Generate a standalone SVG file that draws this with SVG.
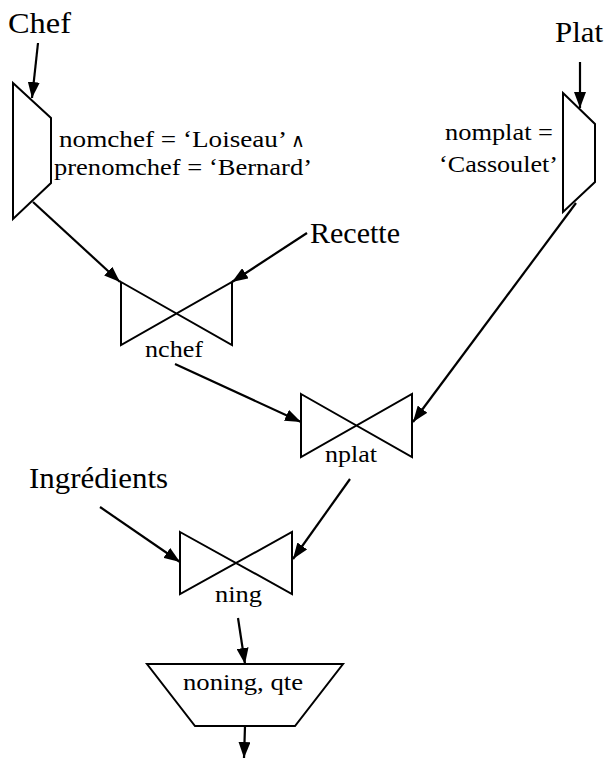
<svg xmlns="http://www.w3.org/2000/svg" width="607" height="758" viewBox="0 0 607 758">
<style>
.shape{fill:#fff;stroke:#000;stroke-width:2;stroke-linejoin:miter}
.conn{fill:none;stroke:#000;stroke-width:2.2}
.big{font-family:"Liberation Serif","Times New Roman",serif;font-size:30px;fill:#000}
.sm{font-family:"Liberation Serif","Times New Roman",serif;font-size:24px;fill:#000}
.op{font-family:"DejaVu Sans",sans-serif;font-size:19px;fill:#000}
</style>
<defs>
<marker id="arr" viewBox="0 0 16 12" refX="16" refY="6" markerWidth="16" markerHeight="12" markerUnits="userSpaceOnUse" orient="auto">
<path d="M0,0 L16,6 L0,12 z" fill="#000"/>
</marker>
</defs>
<rect width="607" height="758" fill="#fff"/>
<g id="chef"><text class="big" x="8" y="33" textLength="63" lengthAdjust="spacingAndGlyphs">Chef</text></g>
<g id="plat"><text class="big" x="555" y="42" textLength="48" lengthAdjust="spacingAndGlyphs">Plat</text></g>
<g id="recette"><text class="big" x="310" y="243" textLength="90" lengthAdjust="spacingAndGlyphs">Recette</text></g>
<g id="ingredients"><text class="big" x="29" y="488" textLength="139" lengthAdjust="spacingAndGlyphs">Ingrédients</text></g>
<g id="sel-chef">
<polygon class="shape" points="13,83 51,118 51,183 13,219"/>
<text class="sm" x="59" y="147" textLength="228" lengthAdjust="spacingAndGlyphs">nomchef = ‘Loiseau’</text>
<text class="op" x="291" y="147">∧</text>
<text class="sm" x="54" y="175" textLength="258" lengthAdjust="spacingAndGlyphs">prenomchef = ‘Bernard’</text>
</g>
<g id="sel-plat">
<polygon class="shape" points="563,93 595,124 595,182 563,212"/>
<text class="sm" x="445" y="140" textLength="108" lengthAdjust="spacingAndGlyphs">nomplat =</text>
<text class="sm" x="439" y="172" textLength="119" lengthAdjust="spacingAndGlyphs">‘Cassoulet’</text>
</g>
<g id="join-nchef">
<path class="shape" d="M121,282 L232,345 L232,282 L121,345 Z"/>
<text class="sm" x="145" y="357" textLength="58" lengthAdjust="spacingAndGlyphs">nchef</text>
</g>
<g id="join-nplat">
<path class="shape" d="M301,394 L412,457 L412,394 L301,457 Z"/>
<text class="sm" x="325" y="462" textLength="52" lengthAdjust="spacingAndGlyphs">nplat</text>
</g>
<g id="join-ning">
<path class="shape" d="M180,532 L292,594 L292,532 L180,594 Z"/>
<text class="sm" x="215" y="602" textLength="47" lengthAdjust="spacingAndGlyphs">ning</text>
</g>
<g id="proj">
<polygon class="shape" points="147,664 343,664 295,726 195,726"/>
<text class="sm" x="183" y="690" textLength="120" lengthAdjust="spacingAndGlyphs">noning, qte</text>
</g>
<g id="connectors">
<line class="conn" x1="38" y1="43" x2="32" y2="98" marker-end="url(#arr)"/>
<line class="conn" x1="580" y1="62" x2="580" y2="108" marker-end="url(#arr)"/>
<line class="conn" x1="33" y1="202" x2="120" y2="282" marker-end="url(#arr)"/>
<line class="conn" x1="307" y1="233" x2="232" y2="282" marker-end="url(#arr)"/>
<line class="conn" x1="175" y1="364" x2="301" y2="422" marker-end="url(#arr)"/>
<line class="conn" x1="576" y1="203" x2="413" y2="422" marker-end="url(#arr)"/>
<line class="conn" x1="100" y1="507" x2="180" y2="562" marker-end="url(#arr)"/>
<line class="conn" x1="350" y1="479" x2="293" y2="559" marker-end="url(#arr)"/>
<line class="conn" x1="238" y1="618" x2="245" y2="664" marker-end="url(#arr)"/>
<line class="conn" x1="245" y1="726" x2="244" y2="758" marker-end="url(#arr)"/>
</g>
</svg>
